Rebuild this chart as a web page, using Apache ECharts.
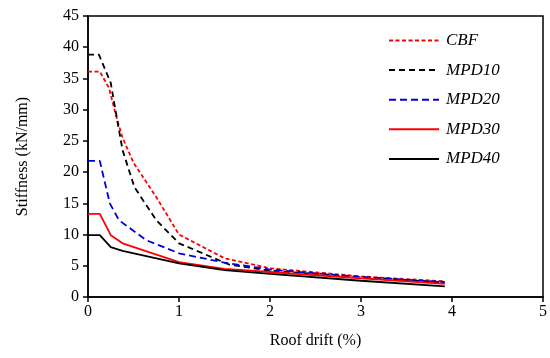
<!DOCTYPE html>
<html><head><meta charset="utf-8">
<script src="https://cdn.jsdelivr.net/npm/echarts@6/dist/echarts.min.js"></script>
<style>html,body{margin:0;padding:0;background:#fff}#c{width:550px;height:358px}</style>
</head><body><div id="c"></div>
<script>
const seriesNames = ['CBF','MPD10','MPD20','MPD30','MPD40'];
const CBF   = [[0,36.1],[0.13,36.1],[0.23,33.5],[0.32,28.4],[0.38,25.5],[0.5,21.5],[0.75,16],[1,10],[1.5,6.2],[2,4.6],[3,3.3],[3.92,2.5]];
const MPD10 = [[0,38.8],[0.12,38.8],[0.25,34.3],[0.32,28.4],[0.38,23.5],[0.51,17.6],[0.75,12.3],[1,8.6],[1.55,5.2],[2,4.2],[3,3.2],[3.92,2.3]];
const MPD20 = [[0,21.8],[0.13,21.8],[0.16,19.9],[0.24,15],[0.34,12.3],[0.64,9.1],[1,7],[1.5,5.5],[2,4.4],[3,3.2],[3.92,2.4]];
const MPD30 = [[0,13.3],[0.13,13.3],[0.25,9.9],[0.38,8.6],[1,5.6],[1.5,4.5],[2,4.0],[3,3.0],[3.92,2.1]];
const MPD40 = [[0,9.9],[0.13,9.9],[0.25,8.0],[0.38,7.4],[1,5.4],[1.5,4.3],[2,3.7],[3,2.6],[3.92,1.7]];
const xTicks = [0,1,2,3,4,5];
const yTicks = [0,5,10,15,20,25,30,35,40,45];

const font = 'Liberation Serif';
const data = [CBF, MPD10, MPD20, MPD30, MPD40];
const styles = [
  {color:'#ff0000', type:[4,2.5]},
  {color:'#000000', type:[6,4]},
  {color:'#0000dd', type:[7,4]},
  {color:'#ff0000', type:'solid'},
  {color:'#000000', type:'solid'}
];
const chart = echarts.init(document.getElementById('c'));
chart.setOption({
  animation:false,
  backgroundColor:'#fff',
  grid:{left:88,right:5,top:16,bottom:61,show:true,borderColor:'#000',borderWidth:1.5,backgroundColor:'transparent'},
  legend:{
    orient:'vertical', left:383, top:27, itemWidth:50, itemHeight:14, itemGap:12.6,
    itemStyle:{opacity:0},
    textStyle:{fontFamily:font, fontStyle:'italic', fontSize:17, color:'#000', padding:[0,0,0,2]},
    data: seriesNames
  },
  xAxis:{type:'value',min:0,max:5,interval:1,
    name:'Roof drift (%)',nameLocation:'middle',nameGap:36,
    nameTextStyle:{fontFamily:font,fontSize:16,color:'#000'},
    axisLine:{lineStyle:{color:'#000',width:1.5}},
    axisTick:{show:true,inside:false,length:5,lineStyle:{color:'#000',width:1.5}},
    axisLabel:{fontFamily:font,fontSize:16,color:'#000',margin:7,formatter:v=>xTicks.includes(v)?String(v):''},
    splitLine:{show:false}},
  yAxis:{type:'value',min:0,max:45,interval:5,
    name:'Stiffness (kN/mm)',nameLocation:'middle',nameGap:57,
    nameTextStyle:{fontFamily:font,fontSize:16,color:'#000'},
    axisLine:{show:true,lineStyle:{color:'#000',width:1.5}},
    axisTick:{show:true,inside:false,length:5,lineStyle:{color:'#000',width:1.5}},
    axisLabel:{fontFamily:font,fontSize:16,color:'#000',margin:9,formatter:v=>yTicks.includes(v)?String(v):''},
    splitLine:{show:false}},
  series: seriesNames.map((n,i)=>({
    name:n,type:'line',data:data[i],showSymbol:false,symbol:'none',
    lineStyle:{color:styles[i].color,type:styles[i].type,width:1.8},
    itemStyle:{color:styles[i].color}
  }))
});
</script></body></html>
